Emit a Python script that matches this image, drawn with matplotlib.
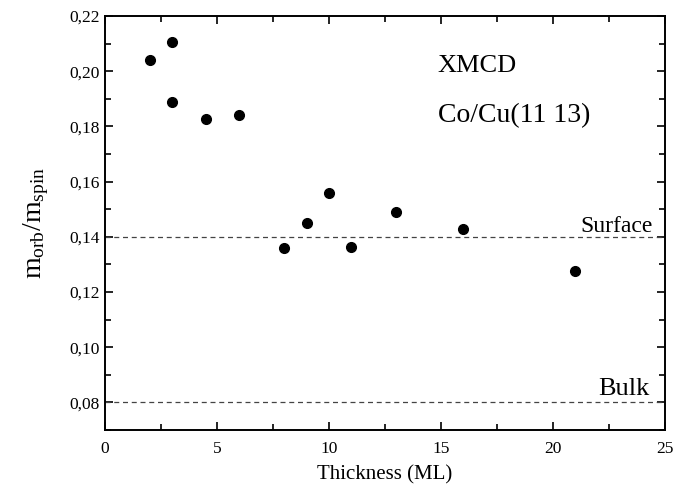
import matplotlib
matplotlib.use("Agg")
import matplotlib.pyplot as plt
from matplotlib.ticker import MultipleLocator, FuncFormatter

plt.rcParams["font.family"] = ["Liberation Serif", "DejaVu Serif"]
plt.rcParams["mathtext.fontset"] = "custom"
plt.rcParams["mathtext.rm"] = "Liberation Serif"
plt.rcParams["mathtext.it"] = "Liberation Serif"

# Thickness (ML) and orbital/spin moment ratio
thickness = [2, 3, 3, 4.5, 6, 8, 9, 10, 11, 13, 16, 21]
ratio = [0.204, 0.2106, 0.1888, 0.1826, 0.1841, 0.1358, 0.1449, 0.1558,
         0.1362, 0.1489, 0.1427, 0.1275]
surface_value = 0.14
bulk_value = 0.08

fig = plt.figure(figsize=(6.93, 4.91), dpi=100)
ax = fig.add_axes([0.1515, 0.1242, 0.8081, 0.8432])

ax.plot(thickness, ratio, "o", color="black", markersize=7)
ax.axhline(surface_value, color="#444444", linestyle=(0, (4, 3)), linewidth=0.9)
ax.axhline(bulk_value, color="#444444", linestyle=(0, (4, 3)), linewidth=0.9)

ax.text(24.45, 0.1417, "Surface", ha="right", va="baseline", fontsize=17)
ax.text(24.3, 0.0828, "Bulk", ha="right", va="baseline", fontsize=19)
ax.text(14.85, 0.1997, "XMCD", ha="left", va="baseline", fontsize=19)
ax.text(14.85, 0.1816, "Co/Cu(11 13)", ha="left", va="baseline", fontsize=20)

ax.set_xlim(0, 25)
ax.set_ylim(0.07, 0.22)
ax.xaxis.set_major_locator(MultipleLocator(5))
ax.xaxis.set_minor_locator(MultipleLocator(2.5))
ax.yaxis.set_major_locator(MultipleLocator(0.02))
ax.yaxis.set_minor_locator(MultipleLocator(0.01))
ax.xaxis.set_major_formatter(FuncFormatter(lambda v, p: f"{v:.0f}"))
ax.yaxis.set_major_formatter(FuncFormatter(lambda v, p: f"{v:.2f}".replace(".", ",")))
ax.tick_params(which="both", direction="in", top=True, right=True, labelsize=12.5, width=1.2)
ax.tick_params(which="major", length=6)
ax.tick_params(axis="x", which="major", pad=8)
ax.tick_params(axis="y", which="major", pad=4)
ax.tick_params(which="minor", length=4)
for spine in ax.spines.values():
    spine.set_linewidth(1.4)

ax.set_xlabel("Thickness (ML)", fontsize=15, labelpad=6)
ax.set_ylabel(r"$\mathregular{m_{orb}/m_{spin}}$", fontsize=20, labelpad=13)

fig.savefig("out.png", dpi=100)
